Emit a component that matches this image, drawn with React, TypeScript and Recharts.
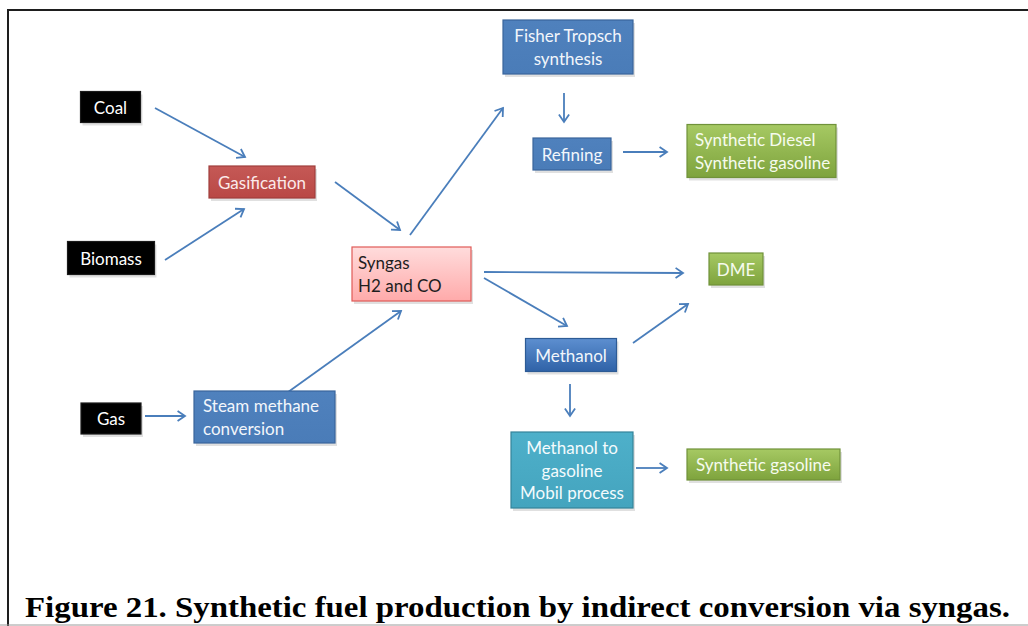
import React from 'react'
import { ScatterChart, Scatter, XAxis, YAxis, ReferenceLine } from 'recharts'

// node labels, one entry per box (lines of text)
const nodeLabels: string[][] = [
  ['Coal'],
  ['Biomass'],
  ['Gas'],
  ['Gasification'],
  ['Steam methane', 'conversion'],
  ['Syngas', 'H2 and CO'],
  ['Fisher Tropsch', 'synthesis'],
  ['Refining'],
  ['Synthetic Diesel', 'Synthetic gasoline'],
  ['DME'],
  ['Methanol'],
  ['Methanol to', 'gasoline', 'Mobil process'],
  ['Synthetic gasoline']
]

// box centres in diagram units
const nodeX = [110.5, 111, 111, 262, 264.5, 411.5, 568, 572, 761.5, 736, 571, 572, 763.5]
const nodeY = [107, 258, 418.5, 182, 417, 274, 47, 154, 151, 269, 355, 470, 464.5]

const nodeKind = [
  'feed', 'feed', 'feed', 'red', 'blue', 'syngas', 'blue', 'blue',
  'green', 'green', 'blueGrad', 'aqua', 'green'
]

// arrows: start and end points
const edgeFrom = [
  [155, 108], [165, 260], [335, 182], [410, 235], [564, 93], [623, 152],
  [484, 272], [484, 278], [633, 343], [570, 384], [636, 468], [145, 416], [277, 400]
]
const edgeTo = [
  [245, 157], [244, 209], [400, 230], [503, 108], [564, 122], [667, 152],
  [683, 273], [567, 326], [688, 304], [570, 416], [667, 468], [185, 416], [401, 311]
]

// box sizes (px), kept apart from the data
const boxSize = [
  [60, 31], [87, 33], [60, 31], [106, 32], [141, 52], [119, 54], [130, 54],
  [78, 32], [149, 53], [54, 32], [91, 33], [122, 76], [153, 31]
]
const leftAligned: Record<number, number> = { 4: 9, 5: 6, 8: 8 }

const KIND_STYLE: Record<string, { top: string; bottom: string; stroke: string; text: string }> = {
  feed: { top: '#000000', bottom: '#000000', stroke: '#1a1a1a', text: '#ffffff' },
  red: { top: '#c55956', bottom: '#b94845', stroke: '#a03f3c', text: '#fbeaea' },
  syngas: { top: '#ffdcdc', bottom: '#ffaaaa', stroke: '#df5a57', text: '#1e1e1e' },
  blue: { top: '#4f81bd', bottom: '#4a7cb8', stroke: '#3a659b', text: '#f2f6fb' },
  blueGrad: { top: '#5d8fd0', bottom: '#2f62a7', stroke: '#2d5b95', text: '#f2f6fb' },
  aqua: { top: '#4eb0ca', bottom: '#44a4be', stroke: '#34849a', text: '#f4fbfd' },
  green: { top: '#a6c963', bottom: '#7ea33d', stroke: '#70923a', text: '#f6fbee' }
}

const ARROW = '#4a7ebb'
const LINE_GAP = 22.5

const nodes = nodeLabels.map((lines, i) => ({
  x: nodeX[i],
  y: nodeY[i],
  lines,
  kind: nodeKind[i],
  idx: i
}))

const renderNode = (props: any) => {
  const { cx, cy, payload } = props
  const i = payload.idx
  const [w, h] = boxSize[i]
  const st = KIND_STYLE[payload.kind]
  const gid = `node-grad-${i}`
  const x0 = cx - w / 2
  const y0 = cy - h / 2
  const pad = leftAligned[i]
  const n = payload.lines.length
  return (
    <g>
      <defs>
        <linearGradient id={gid} x1="0" y1="0" x2="0" y2="1">
          <stop offset="0%" stopColor={st.top} />
          <stop offset="100%" stopColor={st.bottom} />
        </linearGradient>
      </defs>
      <rect x={x0 + 2} y={y0 + 3} width={w} height={h} fill="#000" opacity={0.12} />
      <rect x={x0} y={y0} width={w} height={h} fill={`url(#${gid})`} stroke={st.stroke} strokeWidth={1.2} />
      {payload.lines.map((t: string, k: number) => (
        <text
          key={k}
          x={pad !== undefined ? x0 + pad : cx}
          y={cy + (k - (n - 1) / 2) * LINE_GAP}
          textAnchor={pad !== undefined ? 'start' : 'middle'}
          dominantBaseline="central"
          fontFamily="Lato, 'Noto Sans', sans-serif"
          fontSize={17}
          fill={st.text}
        >
          {t}
        </text>
      ))}
    </g>
  )
}

const renderArrow = (props: any) => {
  const { x1, y1, x2, y2 } = props
  const ang = Math.atan2(y2 - y1, x2 - x1)
  const len = 9
  const spread = 0.6
  const ax = x2 - len * Math.cos(ang - spread)
  const ay = y2 - len * Math.sin(ang - spread)
  const bx = x2 - len * Math.cos(ang + spread)
  const by = y2 - len * Math.sin(ang + spread)
  return (
    <g>
      <line x1={x1} y1={y1} x2={x2} y2={y2} stroke={ARROW} strokeWidth={1.8} />
      <path d={`M${ax},${ay} L${x2},${y2} L${bx},${by}`} fill="none" stroke={ARROW} strokeWidth={1.8} />
    </g>
  )
}

export default function App() {
  return (
    <div style={{ position: 'absolute', left: 0, top: 0, width: 1028, height: 626, overflow: 'hidden', background: '#fff' }}>
      <div
        style={{
          position: 'absolute',
          left: 7,
          top: 9,
          width: 1100,
          height: 700,
          borderTop: '2px solid #1e1e1e',
          borderLeft: '2px solid #1e1e1e'
        }}
      />
      <div style={{ position: 'absolute', left: 0, top: 0 }}>
        <ScatterChart width={1028} height={626} margin={{ top: 0, right: 0, bottom: 0, left: 0 }}>
          <XAxis type="number" dataKey="x" domain={[0, 1028]} hide />
          <YAxis type="number" dataKey="y" domain={[0, 626]} reversed hide />
          {edgeFrom.map((p, i) => (
            <ReferenceLine
              key={i}
              segment={[
                { x: p[0], y: p[1] },
                { x: edgeTo[i][0], y: edgeTo[i][1] }
              ]}
              ifOverflow="visible"
              shape={renderArrow}
            />
          ))}
          <Scatter data={nodes} shape={renderNode} isAnimationActive={false} />
        </ScatterChart>
      </div>
      <svg style={{ position: 'absolute', left: 0, top: 0 }} width={1028} height={626}>
        <line x1={0} y1={625} x2={1028} y2={625} stroke="#9a9a9a" strokeWidth={1} />
        <text
          x={25}
          y={617}
          textLength={985}
          lengthAdjust="spacingAndGlyphs"
          fontFamily="'Liberation Serif', 'Times New Roman', serif"
          fontWeight="bold"
          fontSize={30}
          fill="#000"
        >
          Figure 21. Synthetic fuel production by indirect conversion via syngas.
        </text>
      </svg>
    </div>
  )
}
